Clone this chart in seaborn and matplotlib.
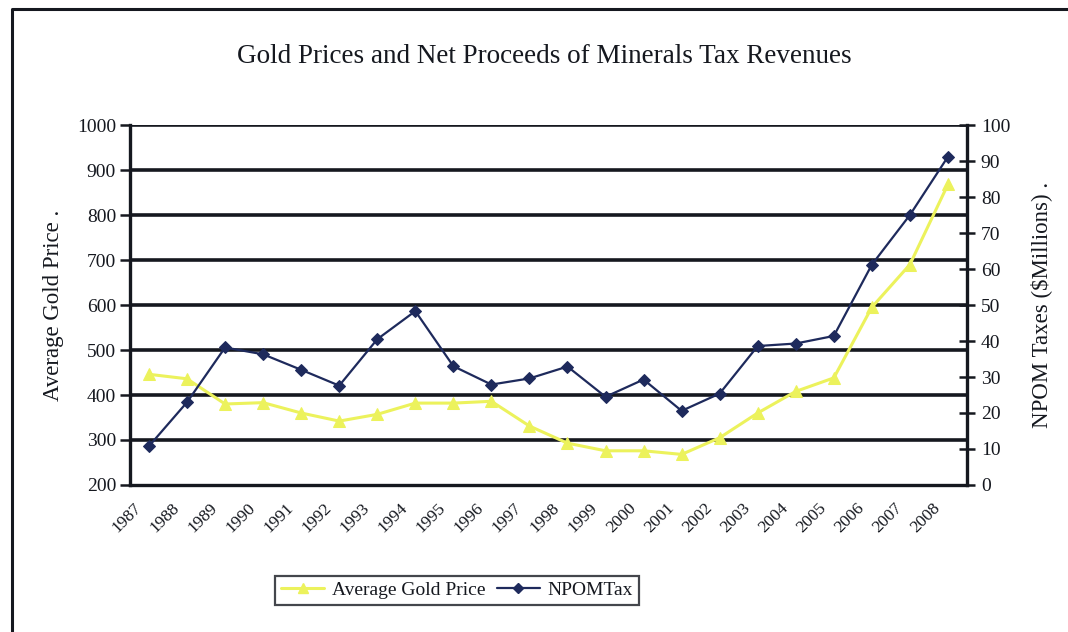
import matplotlib
matplotlib.use("Agg")
import matplotlib.pyplot as plt
import matplotlib.transforms as mtransforms
from matplotlib.lines import Line2D
import seaborn as sns
import pandas as pd
import numpy as np

years = [str(y) for y in range(1987, 2009)]
gold_price = [446, 436, 380, 383, 360, 342, 357, 382, 382, 386, 331, 293,
              276, 276, 268, 305, 360, 408, 438, 595, 690, 868]
npom_tax = [10.8, 23.0, 38.2, 36.3, 32.0, 27.6, 40.5, 48.3, 33.0, 27.9, 29.6, 32.9,
            24.5, 29.3, 20.6, 25.4, 38.6, 39.3, 41.4, 61.2, 75.0, 91.2]

sns.set_theme(style="white")
plt.rcParams["font.family"] = ["Liberation Serif", "DejaVu Serif"]

df = pd.DataFrame({"idx": np.arange(len(years)), "year": years,
                   "gold": gold_price, "npom": npom_tax})

fig = plt.figure(figsize=(10.68, 6.32), dpi=100)
ax = fig.add_axes([0.1217, 0.2326, 0.9054 - 0.1217, 0.8022 - 0.2326])
ax2 = ax.twinx()

gold_color = "#ECF25C"
npom_color = "#1E2A5C"
ink = "#15181f"

# horizontal gridlines on the price axis
ax.set_ylim(200, 1000)
ax.set_yticks(range(200, 1001, 100))
for v in range(300, 1001, 100):
    ax.axhline(v, color=ink, lw=2.6, zorder=1)

sns.lineplot(data=df, x="idx", y="gold", ax=ax, color=gold_color, lw=2.2,
             marker="^", markersize=9, markeredgecolor=gold_color, zorder=3,
             legend=False)
sns.lineplot(data=df, x="idx", y="npom", ax=ax2, color=npom_color, lw=1.6,
             marker="D", markersize=6, markeredgecolor=npom_color, zorder=4,
             legend=False)

n = len(years)
ax.set_xlim(-0.5, n - 0.5)
ax.set_xticks(np.arange(-0.5, n - 0.5, 1.0))
ax.set_xticklabels(years, rotation=45, ha="right", va="center",
                   rotation_mode="anchor", fontsize=12.5, color=ink)
ax.tick_params(axis="x", which="major", direction="out", length=5, width=1.8,
               color=ink, pad=10)
offset = mtransforms.ScaledTranslation(9 / 100, 0, fig.dpi_scale_trans)
for lbl in ax.get_xticklabels():
    lbl.set_transform(lbl.get_transform() + offset)

ax.tick_params(axis="y", direction="out", length=7, width=1.8, color=ink,
               labelsize=14, labelcolor=ink, pad=3)
ax.set_xlabel("")
ax.set_ylabel("Average Gold Price .", fontsize=16.5, labelpad=9, color=ink)

ax2.set_ylim(0, 100)
ax2.set_yticks(range(0, 101, 10))
ax2.tick_params(axis="y", direction="inout", length=12, width=1.8, color=ink,
                labelsize=14, labelcolor=ink, pad=4)
ax2.set_ylabel("NPOM Taxes ($Millions) .", fontsize=16.5, labelpad=14, color=ink)

for a in (ax, ax2):
    a.spines["top"].set_visible(False)
    for s in ("left", "right", "bottom"):
        a.spines[s].set_color(ink)
        a.spines[s].set_linewidth(2.4)
ax.spines["right"].set_visible(False)
ax2.spines["left"].set_visible(False)
ax2.spines["bottom"].set_visible(False)

fig.text(0.51, 0.911, "Gold Prices and Net Proceeds of Minerals Tax Revenues",
         ha="center", va="center", fontsize=19.5, color=ink)

handles = [
    Line2D([], [], color=gold_color, lw=2.2, marker="^", markersize=7),
    Line2D([], [], color=npom_color, lw=1.6, marker="D", markersize=5),
]
leg = fig.legend(handles, ["Average Gold Price", "NPOMTax"], ncol=2,
                 loc="center", bbox_to_anchor=(0.428, 0.066), fontsize=14,
                 frameon=True, fancybox=False, handlelength=2.2,
                 columnspacing=0.6, handletextpad=0.4, borderpad=0.3)
leg.get_frame().set_edgecolor(ink)
leg.get_frame().set_linewidth(1.6)
for t in leg.get_texts():
    t.set_color(ink)

# outer chart border (left and top edges)
fig.add_artist(Line2D([12 / 1068, 12 / 1068, 1.0], [0.0, 1 - 9 / 632, 1 - 9 / 632],
                      transform=fig.transFigure, color=ink, lw=2.2))

fig.savefig("out.png", dpi=100, facecolor="white")
